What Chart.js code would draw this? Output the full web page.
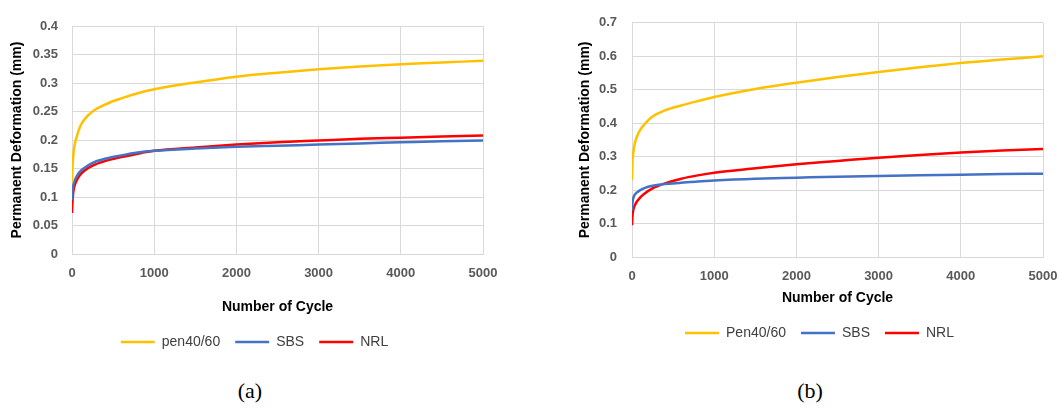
<!DOCTYPE html>
<html>
<head>
<meta charset="utf-8">
<script src="https://cdn.jsdelivr.net/npm/chart.js@4.4.0/dist/chart.umd.min.js"></script>
<style>
    html, body { margin: 0; padding: 0; background: #fff; }
    body { width: 1063px; height: 410px; position: relative; overflow: hidden; }
    .panel { position: absolute; top: 0; }
    .caption {
        position: absolute; top: 378px; width: 60px; text-align: center;
        font-family: 'Liberation Serif', 'DejaVu Serif', serif; font-size: 22px; color: #000;
    }
</style>
</head>
<body>
<div class="panel" style="left:0px;width:530px;height:370px"><canvas id="chartA"></canvas></div>
<div class="panel" style="left:560px;width:503px;height:360px"><canvas id="chartB"></canvas></div>
<div class="caption" style="left:220px">(a)</div>
<div class="caption" style="left:780px">(b)</div>
<script>
// Number of cycles where the curves were sampled (shared by both panels)
const cycles = [0, 5, 15, 30, 60, 100, 150, 250, 400, 600, 800, 1000, 1500, 2000, 2500, 3000, 3500, 4000, 4500, 5000];

// Panel (a)
const penA = [0.125, 0.15, 0.172, 0.19, 0.207, 0.224, 0.236, 0.25, 0.262, 0.273, 0.282, 0.289, 0.301, 0.311, 0.318, 0.324, 0.329, 0.333, 0.336, 0.339];
const sbsA = [0.095, 0.108, 0.12, 0.128, 0.137, 0.145, 0.151, 0.16, 0.167, 0.173, 0.178, 0.181, 0.185, 0.188, 0.19, 0.192, 0.194, 0.196, 0.198, 0.199];
const nrlA = [0.072, 0.09, 0.108, 0.119, 0.13, 0.139, 0.146, 0.155, 0.163, 0.17, 0.176, 0.181, 0.187, 0.192, 0.196, 0.199, 0.202, 0.204, 0.206, 0.208];

// Panel (b)
const penB = [0.23, 0.28, 0.31, 0.335, 0.36, 0.38, 0.396, 0.42, 0.438, 0.453, 0.466, 0.478, 0.502, 0.521, 0.538, 0.553, 0.567, 0.58, 0.59, 0.6];
const sbsB = [0.14, 0.16, 0.175, 0.185, 0.193, 0.2, 0.206, 0.213, 0.218, 0.222, 0.226, 0.229, 0.234, 0.237, 0.24, 0.242, 0.244, 0.246, 0.248, 0.249];
const nrlB = [0.095, 0.12, 0.14, 0.152, 0.166, 0.178, 0.189, 0.205, 0.22, 0.234, 0.244, 0.252, 0.265, 0.277, 0.287, 0.297, 0.305, 0.312, 0.318, 0.323];

// Tick labels
const xTicks = [0, 1000, 2000, 3000, 4000, 5000];
const yTicksA = [0, 0.05, 0.1, 0.15, 0.2, 0.25, 0.3, 0.35, 0.4];
const yTicksB = [0, 0.1, 0.2, 0.3, 0.4, 0.5, 0.6, 0.7];

const labelsA = ['pen40/60', 'SBS', 'NRL'];
const labelsB = ['Pen40/60', 'SBS', 'NRL'];

const COLORS = ['#FFC000', '#4472C4', '#FF0000'];
const FONT = "'Liberation Sans', Arial, sans-serif";

// moves the legend so it is centred where Excel put it
const legendShift = {
    id: 'legendShift',
    afterLayout(chart, args, opts) {
        const lg = chart.legend;
        if (!lg || opts.center == null) return;
        const d = opts.center - (lg.left + lg.right) / 2;
        lg.left += d;
        lg.right += d;
    }
};

function toPoints(ys) {
    return ys.map((y, i) => ({ x: cycles[i], y: y }));
}

function buildChart(canvasId, p) {
    const datasets = p.series.map((ys, i) => ({
        label: p.labels[i],
        data: toPoints(ys),
        borderColor: COLORS[i],
        backgroundColor: COLORS[i],
        borderWidth: 2.5,
        pointRadius: 0,
        cubicInterpolationMode: 'monotone'
    }));

    return new Chart(document.getElementById(canvasId), {
        type: 'line',
        data: { datasets },
        plugins: [legendShift],
        options: {
            responsive: true,
            maintainAspectRatio: false,
            animation: false,
            layout: { padding: { top: p.padTop, right: p.padRight, bottom: p.padBottom, left: 0 } },
            plugins: {
                tooltip: { enabled: false },
                legendShift: { center: p.legendCenter },
                legend: {
                    position: 'bottom',
                    labels: {
                        usePointStyle: true,
                        pointStyle: 'line',
                        pointStyleWidth: 34,
                        padding: 15,
                        color: '#404040',
                        font: { family: FONT, size: 14 }
                    }
                }
            },
            scales: {
                x: {
                    type: 'linear',
                    min: 0,
                    max: 5000,
                    afterBuildTicks: s => { s.ticks = xTicks.map(v => ({ value: v })); },
                    afterFit: s => {
                        s.height = p.xAxisHeight;
                        // tick labels may hang into the layout padding
                        s.paddingLeft = 0;
                        s.paddingRight = 0;
                    },
                    grid: { color: '#D9D9D9', lineWidth: 1, drawTicks: false },
                    border: { color: '#D9D9D9' },
                    ticks: {
                        padding: 12,
                        maxRotation: 0,
                        color: '#595959',
                        font: { family: FONT, size: 13, weight: 'bold' },
                        callback: v => String(v)
                    },
                    title: {
                        display: true,
                        text: 'Number of Cycle',
                        color: '#000',
                        padding: { top: 0, bottom: 4.6 },
                        font: { family: FONT, size: 14, weight: 'bold' }
                    }
                },
                y: {
                    min: 0,
                    max: p.yMax,
                    afterBuildTicks: s => { s.ticks = p.yTicks.map(v => ({ value: v })); },
                    afterFit: s => { s.width = p.yAxisWidth; },
                    grid: { color: '#D9D9D9', lineWidth: 1, drawTicks: false },
                    border: { color: '#D9D9D9' },
                    ticks: {
                        padding: p.yTickPad,
                        color: '#595959',
                        font: { family: FONT, size: 13, weight: 'bold' },
                        callback: v => String(v)
                    },
                    title: {
                        display: true,
                        text: 'Permanent Deformation (mm)',
                        color: '#000',
                        padding: { top: p.yTitlePad, bottom: 0 },
                        font: { family: FONT, size: 14, weight: 'bold' }
                    }
                }
            }
        }
    });
}

document.addEventListener('DOMContentLoaded', () => {
    buildChart('chartA', {
        series: [penA, sbsA, nrlA],
        labels: labelsA,
        yMax: 0.4,
        yTicks: yTicksA,
        padTop: 26,
        padRight: 47,
        padBottom: 11,
        xAxisHeight: 66,
        yAxisWidth: 72,
        yTickPad: 14,
        yTitlePad: 8.6,
        legendCenter: 254.5
    });
    buildChart('chartB', {
        series: [penB, sbsB, nrlB],
        labels: labelsB,
        yMax: 0.7,
        yTicks: yTicksB,
        padTop: 13,
        padRight: 20,
        padBottom: 10,
        xAxisHeight: 54,
        yAxisWidth: 72,
        yTickPad: 15,
        yTitlePad: 16.6,
        legendCenter: 819.5 - 560
    });
});
</script>
</body>
</html>
